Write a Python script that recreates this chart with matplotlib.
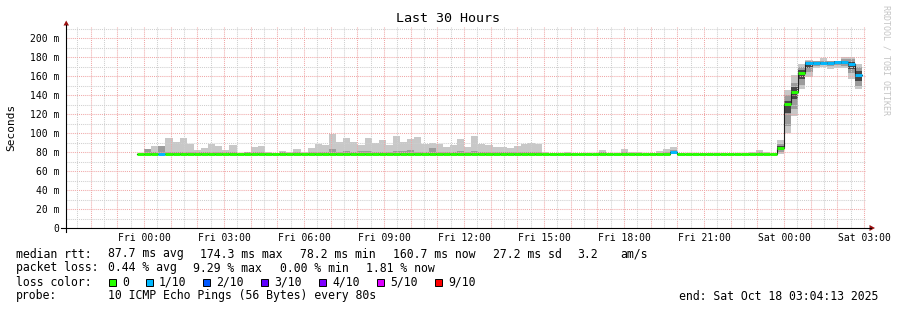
import matplotlib
matplotlib.use("Agg")
import matplotlib.pyplot as plt
from matplotlib.lines import Line2D
from matplotlib.patches import Rectangle, Polygon
import numpy as np

W, H = 897, 310
MONO = "DejaVu Sans Mono"

# rrd steps of 16 min, first one starts 16 min before Fri 00:00
BIN_H = 16 / 60.0
FIRST_BIN = -1

median_ms = [
    78.4,
    78.4, 78.4, 78.4, 78.4, 78.4, 78.4, 78.4, 78.4, 78.4, 78.4,
    78.4, 78.4, 78.4, 78.4, 78.4, 78.4, 78.4, 78.4, 78.4, 78.4,
    78.4, 78.4, 78.4, 78.4, 78.4, 78.4, 78.4, 78.4, 78.4, 78.4,
    78.4, 78.4, 78.4, 78.4, 78.4, 78.4, 78.4, 78.4, 78.4, 78.4,
    78.4, 78.4, 78.4, 78.4, 78.4, 78.4, 78.4, 78.4, 78.4, 78.4,
    78.4, 78.4, 78.4, 78.4, 78.4, 78.4, 78.4, 78.4, 78.4, 78.4,
    78.4, 78.4, 78.4, 78.4, 78.4, 78.4, 78.4, 78.4, 78.4, 78.4,
    78.4, 78.4, 78.4, 78.4, 80.0, 78.4, 78.4, 78.4, 78.4, 78.4,
    78.4, 78.4, 78.4, 78.4, 78.4, 78.4, 78.4, 78.4, 78.4, 83.9,
    130.5, 143.0, 162.8, 173.3, 174.0, 174.2, 174.0, 174.3, 174.3, 172.6,
    161.0,
]
smoke_min_ms = [78.2] * 90 + [
    78.2, 100.0, 118.0, 146.0, 158.6, 168.0, 170.0, 167.0, 168.0, 168.0, 156.5, 146.0,
]
smoke_max_ms = [
    78.4,
    83.0, 86.3, 86.3, 94.7, 90.5, 94.7, 88.0, 82.0, 84.0, 88.4,
    86.7, 82.0, 87.4, 78.6, 80.4, 85.6, 86.3, 79.6, 78.6, 81.0,
    79.6, 83.2, 79.6, 84.0, 88.0, 87.0, 99.0, 90.5, 94.7, 90.5,
    87.0, 94.7, 89.8, 92.6, 87.0, 96.8, 90.5, 94.0, 96.2, 88.4,
    89.8, 88.4, 85.0, 87.7, 94.0, 85.6, 96.8, 88.4, 87.0, 85.6,
    85.0, 84.5, 86.0, 88.0, 89.0, 88.4, 79.5, 78.4, 78.4, 79.8,
    78.4, 78.4, 79.2, 78.4, 82.0, 79.0, 78.4, 83.0, 79.5, 80.0,
    78.4, 79.0, 80.7, 83.0, 85.0, 78.4, 78.4, 78.4, 78.4, 78.4,
    78.4, 78.4, 78.4, 78.4, 78.4, 79.5, 81.7, 80.0, 78.4, 92.6,
    145.0, 161.0, 173.0, 177.0, 176.0, 178.6, 176.0, 176.0, 179.6, 179.6,
    173.0,
]
mid_lo_ms = [78.2] * 90 + [
    80.0, 107.0, 125.0, 151.0, 164.0, 171.0, 172.0, 171.0, 172.0, 171.0, 163.0, 150.0,
]
mid_hi_ms = [
    78.4,
    83.0, 80.5, 86.3, 80.5, 80.5, 80.5, 80.0, 80.0, 80.0, 80.0,
    80.0, 79.5, 80.0, 78.4, 79.5, 80.0, 80.0, 79.0, 78.4, 79.5,
    79.0, 79.5, 79.0, 79.5, 80.5, 80.5, 83.0, 80.5, 81.5, 80.5,
    81.0, 81.0, 80.5, 80.5, 80.0, 81.0, 81.0, 82.0, 80.5, 80.5,
    84.0, 80.5, 80.0, 80.5, 81.5, 80.0, 81.0, 80.5, 80.0, 80.0,
    80.0, 80.0, 80.0, 80.5, 80.5, 80.0, 78.4, 78.4, 78.4, 78.4,
    78.4, 78.4, 78.4, 78.4, 79.5, 78.4, 78.4, 80.0, 78.4, 78.4,
    78.4, 78.4, 79.0, 80.0, 82.0, 78.4, 78.4, 78.4, 78.4, 78.4,
    78.4, 78.4, 78.4, 78.4, 78.4, 78.4, 79.5, 78.4, 78.4, 88.0,
    140.0, 153.0, 169.0, 176.0, 175.5, 176.0, 175.5, 176.0, 178.0, 178.0,
    170.0,
]
# darkest smoke core, only where it shows (bin index, lo, hi)
dark_bins = [89, 90, 91, 92, 93, 94, 95, 96, 97, 98, 99, 100]
dark_lo_ms = [82.0, 121.0, 136.0, 157.0, 168.0, 173.0, 173.0, 173.0, 173.5, 173.0, 167.0, 155.0]
dark_hi_ms = [86.0, 134.0, 148.0, 166.0, 175.0, 175.0, 175.0, 175.0, 175.5, 176.0, 175.0, 165.0]

loss_tenths = [0] * 3 + [1] + [0] * 71 + [1] + [0] * 18 + [1] * 8

loss_labels = ["0", "1/10", "2/10", "3/10", "4/10", "5/10", "9/10"]
loss_keys = [0, 1, 2, 3, 4, 5, 9]
loss_colors = ["#26ff00", "#00b8ff", "#0059ff", "#5e00ff", "#7e00ff", "#dd00ff", "#ff0000"]

tick_hours = [0, 3, 6, 9, 12, 15, 18, 21, 24, 27]
tick_labels = ["Fri 00:00", "Fri 03:00", "Fri 06:00", "Fri 09:00", "Fri 12:00",
               "Fri 15:00", "Fri 18:00", "Fri 21:00", "Sat 00:00", "Sat 03:00"]
y_ticks = [0, 20, 40, 60, 80, 100, 120, 140, 160, 180, 200]

rtt_fields = ["87.7 ms avg", "174.3 ms max", "78.2 ms min", "160.7 ms now", "27.2 ms sd", "3.2", "am/s"]
loss_fields = ["0.44 % avg", "9.29 % max", "0.00 % min", "1.81 % now"]


def fx(x):
    return x / W


def fy(y):
    return 1 - y / H


fig = plt.figure(figsize=(W / 100, H / 100), dpi=100, facecolor="white")
ax = fig.add_axes([fx(66), fy(228), 800 / W, 201 / H])
ax.set_xlim(-2.93, 27.07)
ax.set_ylim(0, 201 / 0.95)
for s in ax.spines.values():
    s.set_visible(False)

n = len(median_ms)
left = FIRST_BIN * BIN_H + np.arange(n) * BIN_H
med = np.array(median_ms)
lo = np.array(smoke_min_ms)
hi = np.array(smoke_max_ms)
mlo = np.array(mid_lo_ms)
mhi = np.array(mid_hi_ms)

# smoke
ax.bar(left, hi - lo, bottom=lo, width=BIN_H, align="edge", color="#c8c8c8", lw=0, zorder=1)
ax.bar(left, mhi - mlo, bottom=mlo, width=BIN_H, align="edge", color="#9c9c9c", lw=0, zorder=1.1)
dl = np.array(dark_bins) - FIRST_BIN
ax.bar(left[dl], np.array(dark_hi_ms) - np.array(dark_lo_ms), bottom=dark_lo_ms,
       width=BIN_H, align="edge", color="#464646", lw=0, zorder=1.2)

# grid (drawn over smoke, like rrdtool)
dash = (0, (1, 1))
for h in np.arange(-2.5, 27.1, 0.5):
    major = float(h).is_integer()
    ax.axvline(h, color="#f0a8a8" if major else "#cfcfcf", lw=0.75, ls=dash, zorder=2)
for v in range(10, 211, 10):
    ax.axhline(v, color="#f0a8a8" if v % 20 == 0 else "#cfcfcf", lw=0.75, ls=dash, zorder=2)

# median: thin dark step + loss-coloured segments
xs = np.append(left, left[-1] + BIN_H)
ax.step(xs, np.append(med, med[-1]), where="post", color="#202020", lw=0.8, zorder=3)
cmap = dict(zip(loss_keys, loss_colors))
ax.hlines(med, left, left + BIN_H, colors=[cmap[l] for l in loss_tenths], lw=2.1,
          zorder=4, capstyle="butt")

ax.set_xticks(tick_hours)
ax.set_xticklabels(tick_labels, family=MONO, fontsize=7)
ax.set_yticks(y_ticks)
ax.set_yticklabels(["0"] + [f"{v} m" for v in y_ticks[1:]], family=MONO, fontsize=7)
ax.tick_params(length=0)
ax.tick_params(axis="x", pad=3.5)
ax.tick_params(axis="y", pad=5)

# axes with arrows
fig.add_artist(Line2D([fx(61), fx(871)], [fy(228), fy(228)], color="black", lw=0.8))
fig.add_artist(Line2D([fx(66), fx(66)], [fy(232), fy(25)], color="black", lw=0.8))
fig.add_artist(Polygon([(fx(63.5), fy(25.5)), (fx(69), fy(25.5)), (fx(66.2), fy(20.5))],
                       closed=True, color="#9a1010", lw=0))
fig.add_artist(Polygon([(fx(869.5), fy(225)), (fx(869.5), fy(231)), (fx(875), fy(228))],
                       closed=True, color="#9a1010", lw=0))

fig.text(fx(448), fy(19), "Last 30 Hours", family=MONO, fontsize=9.6, ha="center", va="center")
fig.text(fx(11), fy(127), "Seconds", family=MONO, fontsize=8, rotation=90, ha="center", va="center")
fig.text(fx(886), fy(5), "RRDTOOL / TOBI OETIKER", family=MONO, fontsize=6, rotation=270,
         ha="center", va="top", color="#c4c4c4")

fs = 8.3
fig.text(fx(16), fy(254), "median rtt:", family=MONO, fontsize=fs, va="center")
for px_, txt in zip([107.5, 200, 300, 393, 493, 577, 620], rtt_fields):
    fig.text(fx(px_), fy(254), txt, family=MONO, fontsize=fs, va="center")
fig.text(fx(16), fy(268), "packet loss:", family=MONO, fontsize=fs, va="center")
for px_, txt in zip([107.5, 193, 280, 366], loss_fields):
    fig.text(fx(px_), fy(268), txt, family=MONO, fontsize=fs, va="center")
fig.text(fx(16), fy(282), "loss color:", family=MONO, fontsize=fs, va="center")
box_x = [109, 146, 203, 261, 319, 377, 435]
for bx, lab, col in zip(box_x, loss_labels, loss_colors):
    fig.add_artist(Rectangle((fx(bx), fy(285.5)), 7 / W, 7 / H, facecolor=col,
                             edgecolor="black", lw=0.7))
    fig.text(fx(bx + 13), fy(282), lab, family=MONO, fontsize=fs, va="center")
fig.text(fx(16), fy(296), "probe:", family=MONO, fontsize=fs, va="center")
fig.text(fx(107.5), fy(296), "10 ICMP Echo Pings (56 Bytes) every 80s",
         family=MONO, fontsize=fs, va="center")
fig.text(fx(679), fy(296), "end: Sat Oct 18 03:04:13 2025", family=MONO, fontsize=fs, va="center")

fig.savefig("out.png", dpi=100, facecolor="white")
